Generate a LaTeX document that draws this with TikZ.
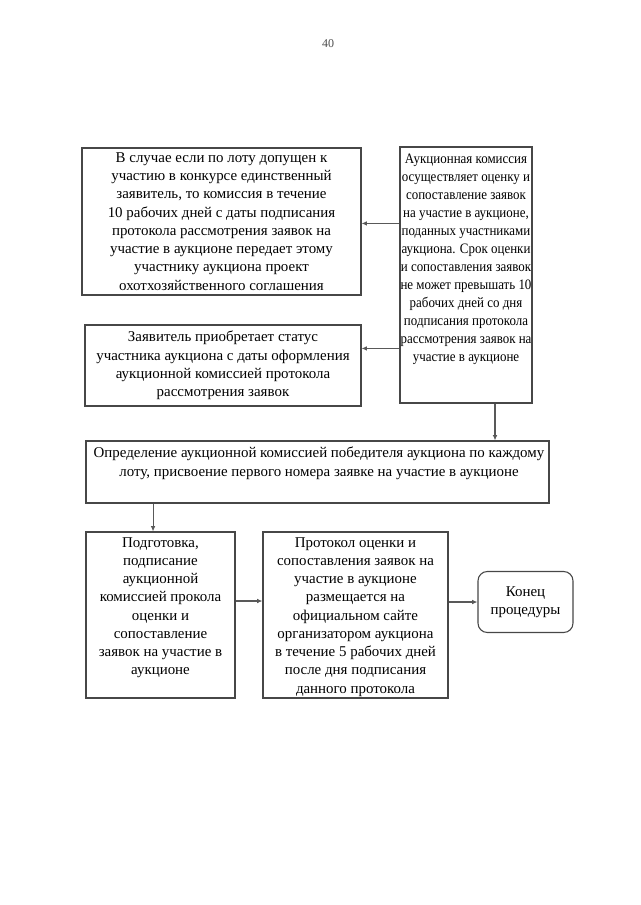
\documentclass[tikz,border=0pt]{standalone}
\usepackage{fontspec}
\setmainfont{Liberation Serif}
\usetikzlibrary{arrows.meta}
\begin{document}
\begin{tikzpicture}[x=0.75pt,y=-0.75pt,
  box/.style={draw=black!72,line width=0.8pt,inner sep=0pt},
  txt/.style={align=center,inner sep=0pt,font=\fontsize{11.2pt}{13.7pt}\selectfont},
  arr/.style={draw=black!65,line width=0.8pt,-{Latex[length=4pt,width=3.5pt]}}]
\useasboundingbox (0,0) rectangle (640,905);
\node[font=\fontsize{9pt}{10pt}\selectfont,text=black!70] (pg) at (328,44) {40};
% Box A
\node[box,minimum width=279*0.75pt,minimum height=147*0.75pt] (A) at (221.5,221.5) {};
\node[txt] (At) at (A.center) {В случае если по лоту допущен к\\участию в конкурсе единственный\\заявитель, то комиссия в течение\\10 рабочих дней с даты подписания\\протокола рассмотрения заявок на\\участие в аукционе передает этому\\участнику аукциона проект\\охотхозяйственного соглашения};
% Box B
\node[box,minimum width=132*0.75pt,minimum height=256*0.75pt] (B) at (466,275) {};
\node[txt,anchor=north,xscale=0.9,font=\fontsize{10.8pt}{13.5pt}\selectfont] (Bt) at (466,154) {Аукционная комиссия\\осуществляет оценку и\\сопоставление заявок\\на участие в аукционе,\\поданных участниками\\аукциона. Срок оценки\\и сопоставления заявок\\не может превышать 10\\рабочих дней со дня\\подписания протокола\\рассмотрения заявок на\\участие в аукционе};
% Box C
\node[box,minimum width=276*0.75pt,minimum height=81*0.75pt] (C) at (223,365.5) {};
\node[txt] (Ct) at (C.center) {Заявитель приобретает статус\\участника аукциона с даты оформления\\аукционной комиссией протокола\\рассмотрения заявок};
% Box D
\node[box,minimum width=463*0.75pt,minimum height=62*0.75pt] (D) at (317.5,472) {};
\node[txt,anchor=north] (Dt) at (319,447) {Определение аукционной комиссией победителя аукциона по каждому\\лоту, присвоение первого номера заявке на участие в аукционе};
% Box E
\node[box,minimum width=149*0.75pt,minimum height=166*0.75pt] (E) at (160.5,615) {};
\node[txt,anchor=north] (Et) at (160.5,537) {Подготовка,\\подписание\\аукционной\\комиссией прокола\\оценки и\\сопоставление\\заявок на участие в\\аукционе};
% Box F
\node[box,minimum width=185*0.75pt,minimum height=166*0.75pt] (F) at (355.5,615) {};
\node[txt,anchor=north] (Ft) at (355.5,537) {Протокол оценки и\\сопоставления заявок на\\участие в аукционе\\размещается на\\официальном сайте\\организатором аукциона\\в течение 5 рабочих дней\\после дня подписания\\данного протокола};
% Box G
\node[box,rounded corners=7pt,minimum width=95*0.75pt,minimum height=61*0.75pt] (G) at (525.5,602) {};
\node[txt] (Gt) at (G.center) {Конец\\процедуры};
% connectors
\coordinate (b1) at ([yshift=-57.75pt]B.north west);
\coordinate (b2) at ([yshift=-151.5pt]B.north west);
\coordinate (b3) at ([xshift=21.75pt]B.south);
\coordinate (d1) at ([xshift=-5.6pt]E.north);
\coordinate (e1) at ([yshift=10.5pt]E.east);
\draw[arr] (b1) -- (b1 -| A.east);
\draw[arr] (b2) -- (b2 -| C.east);
\draw[arr] (b3) -- (b3 |- D.north);
\draw[arr] (d1 |- D.south) -- (d1);
\draw[arr] (e1) -- (e1 -| F.west);
\draw[arr] (F.east |- G.west) -- (G.west);
\end{tikzpicture}
\end{document}
